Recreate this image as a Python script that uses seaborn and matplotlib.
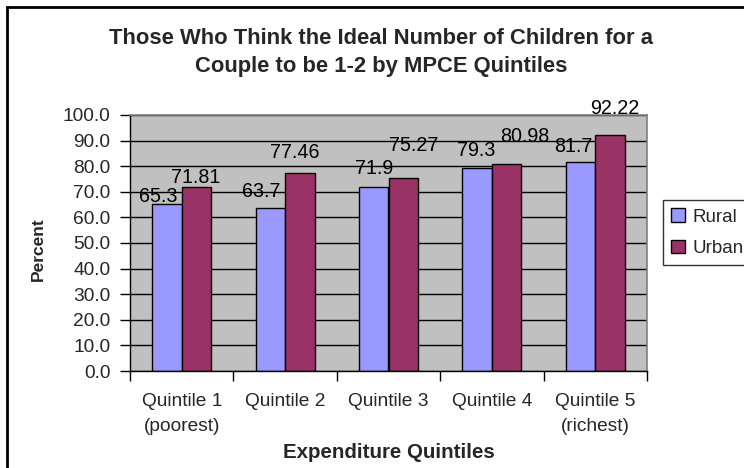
import numpy as np
import pandas as pd
import seaborn as sns
import matplotlib
matplotlib.use("Agg")
import matplotlib.pyplot as plt
from matplotlib.patches import Rectangle
from matplotlib.ticker import FormatStrFormatter

# Datos
quintiles = ["Quintile 1\n(poorest)", "Quintile 2", "Quintile 3",
             "Quintile 4", "Quintile 5\n(richest)"]
rural = [65.3, 63.7, 71.9, 79.3, 81.7]
urban = [71.81, 77.46, 75.27, 80.98, 92.22]
series = ["Rural", "Urban"]

# Desplazamiento manual de etiquetas (pixeles), como en el original
rural_label_dx = [-9, -9, 0, -1, -7]
rural_label_dy = [2, 11, 13, 12, 10]
urban_label_dx = [-1, -5, 10, 18, 5]
urban_label_dy = [4, 15, 27, 22, 21]

colors = {"Rural": "#9999FF", "Urban": "#993366"}

df = pd.DataFrame({
    "Quintile": quintiles * 2,
    "Percent": rural + urban,
    "Area": [series[0]] * len(rural) + [series[1]] * len(urban),
})

sns.set_style("white")
plt.rcParams["font.family"] = ["Liberation Sans", "DejaVu Sans"]

W, H = 744, 468
fig = plt.figure(figsize=(W / 100, H / 100), dpi=100)
ax = fig.add_axes([130 / W, (H - 371) / H, 517 / W, 256 / H])
ax.set_facecolor("#C0C0C0")

sns.barplot(data=df, x="Quintile", y="Percent", hue="Area", order=quintiles,
            hue_order=series, palette=colors, width=0.57, edgecolor="black",
            linewidth=1, saturation=1, ax=ax)

handles, labels = ax.get_legend_handles_labels()
ax.get_legend().remove()

# Etiquetas de datos
for cont, vals, dxs, dys in [(ax.containers[0], rural, rural_label_dx, rural_label_dy),
                             (ax.containers[1], urban, urban_label_dx, urban_label_dy)]:
    for bar, v, dx, dy in zip(cont, vals, dxs, dys):
        ax.annotate(f"{v:g}", (bar.get_x() + bar.get_width() / 2, bar.get_height()),
                    xytext=(dx, dy), textcoords="offset pixels",
                    ha="center", va="baseline", fontsize=14.2, color="black",
                    annotation_clip=False)

ax.set_ylim(0, 100)
ax.set_yticks(np.arange(0, 101, 10))
ax.yaxis.set_major_formatter(FormatStrFormatter("%.1f"))
ax.set_xlim(-0.5, len(quintiles) - 0.5)
ax.yaxis.grid(True, color="black", linewidth=1)
ax.set_axisbelow(True)

ax.tick_params(axis="y", direction="out", length=7, width=1, color="black",
               labelsize=13.8, pad=7, left=True)
ax.tick_params(axis="x", which="major", length=0, labelsize=13.8, pad=16)
ax.set_xticks(np.arange(-0.5, len(quintiles)), minor=True)
ax.tick_params(axis="x", which="minor", direction="out", length=7, width=1,
               color="black", bottom=True)
for t in ax.get_xticklabels():
    t.set_linespacing(1.6)
    t.set_va("top")

for side in ["left", "bottom"]:
    ax.spines[side].set_color("black")
    ax.spines[side].set_linewidth(1)
for side in ["top", "right"]:
    ax.spines[side].set_color("#808080")
    ax.spines[side].set_linewidth(1.2)

ax.set_xlabel("")
ax.set_ylabel("")
fig.text(389 / W, 1 - 452 / H, "Expenditure Quintiles", ha="center", va="center",
         fontsize=14.8, fontweight="bold")
fig.text(38 / W, 1 - 249 / H, "Percent", ha="center", va="center", rotation=90,
         fontsize=12.5, fontweight="bold")
fig.text(381 / W, 1 - 52.5 / H,
         "Those Who Think the Ideal Number of Children for a\nCouple to be 1-2 by MPCE Quintiles",
         ha="center", va="center", fontsize=15.8, fontweight="bold", linespacing=1.4)

leg = fig.legend(handles, labels, loc="upper left",
                 bbox_to_anchor=(663 / W, 1 - 200 / H), fontsize=13.5,
                 frameon=True, fancybox=False, edgecolor="black",
                 handlelength=0.7, handleheight=0.7, handletextpad=0.4,
                 labelspacing=0.75, borderpad=0.45, borderaxespad=0)
leg.get_frame().set_linewidth(1)
for h in leg.legend_handles:
    h.set_edgecolor("black")
    h.set_linewidth(1)

# Marco exterior del grafico
fig.add_artist(Rectangle((7 / W, -0.05), 1.1, 1 - 7 / H + 0.05,
                         transform=fig.transFigure, fill=False,
                         edgecolor="black", linewidth=2))

fig.savefig("out.png", dpi=100)
